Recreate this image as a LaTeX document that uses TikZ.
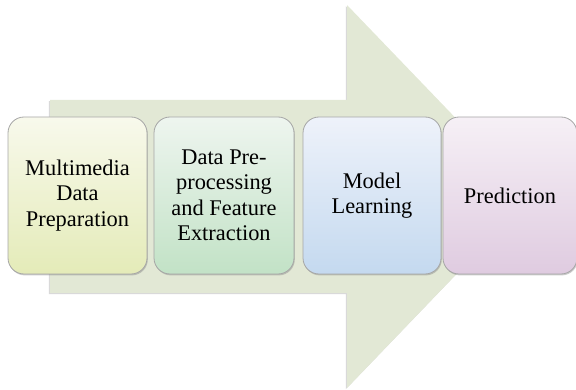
\documentclass[tikz,border=0pt]{standalone}
\usepackage{fontspec}
\setmainfont{Liberation Serif}
\usetikzlibrary{shadows}
\definecolor{arrowfill}{HTML}{E2E8D5}
\definecolor{aTop}{HTML}{F8F9EC}
\definecolor{aBot}{HTML}{E4EBB8}
\definecolor{bTop}{HTML}{EEF5EF}
\definecolor{bBot}{HTML}{C2E2C6}
\definecolor{cTop}{HTML}{EEF2FA}
\definecolor{cBot}{HTML}{C4D9EF}
\definecolor{dTop}{HTML}{F6F0F6}
\definecolor{dBot}{HTML}{DFCBE0}
\tikzset{
  stagebox/.style={draw=black!35, line width=0.8pt, rounded corners=16pt,
    minimum height=157pt, inner sep=0pt, align=center,
    font=\fontsize{22.4}{25.5}\selectfont,
    drop shadow={shadow xshift=0.8pt, shadow yshift=-1.4pt, opacity=0.4}},
  bigarrow/.style={fill=arrowfill, draw=none,
    drop shadow={shadow xshift=-1.2pt, shadow yshift=-1.2pt, opacity=0.3}}
}
\begin{document}
\begin{tikzpicture}[x=1pt, y=-1pt]
\useasboundingbox (0,0) rectangle (576,390);
\coordinate (s1) at (50,100);
\coordinate (s2) at (347,100);
\coordinate (h1) at (347,5);
\coordinate (tip) at (531,196.5);
\coordinate (h2) at (347,388);
\coordinate (s3) at (347,293);
\coordinate (s4) at (50,293);
\path[bigarrow] (s1) -- (s2) -- (h1) -- (tip) -- (h2) -- (s3) -- (s4) -- cycle;
\node[stagebox, minimum width=139pt, top color=aTop, bottom color=aBot] (b1) at (77.5,195.5) {Multimedia\\Data\\Preparation};
\node[stagebox, minimum width=140pt, top color=bTop, bottom color=bBot] (b2) at (224,195.5) {Data Pre-\\processing\\and Feature\\Extraction};
\node[stagebox, minimum width=138pt, top color=cTop, bottom color=cBot] (b3) at (372,195.5) {Model\\Learning};
\node[stagebox, minimum width=134pt, top color=dTop, bottom color=dBot] (b4) at (510,195.5) {Prediction};
\end{tikzpicture}
\end{document}
